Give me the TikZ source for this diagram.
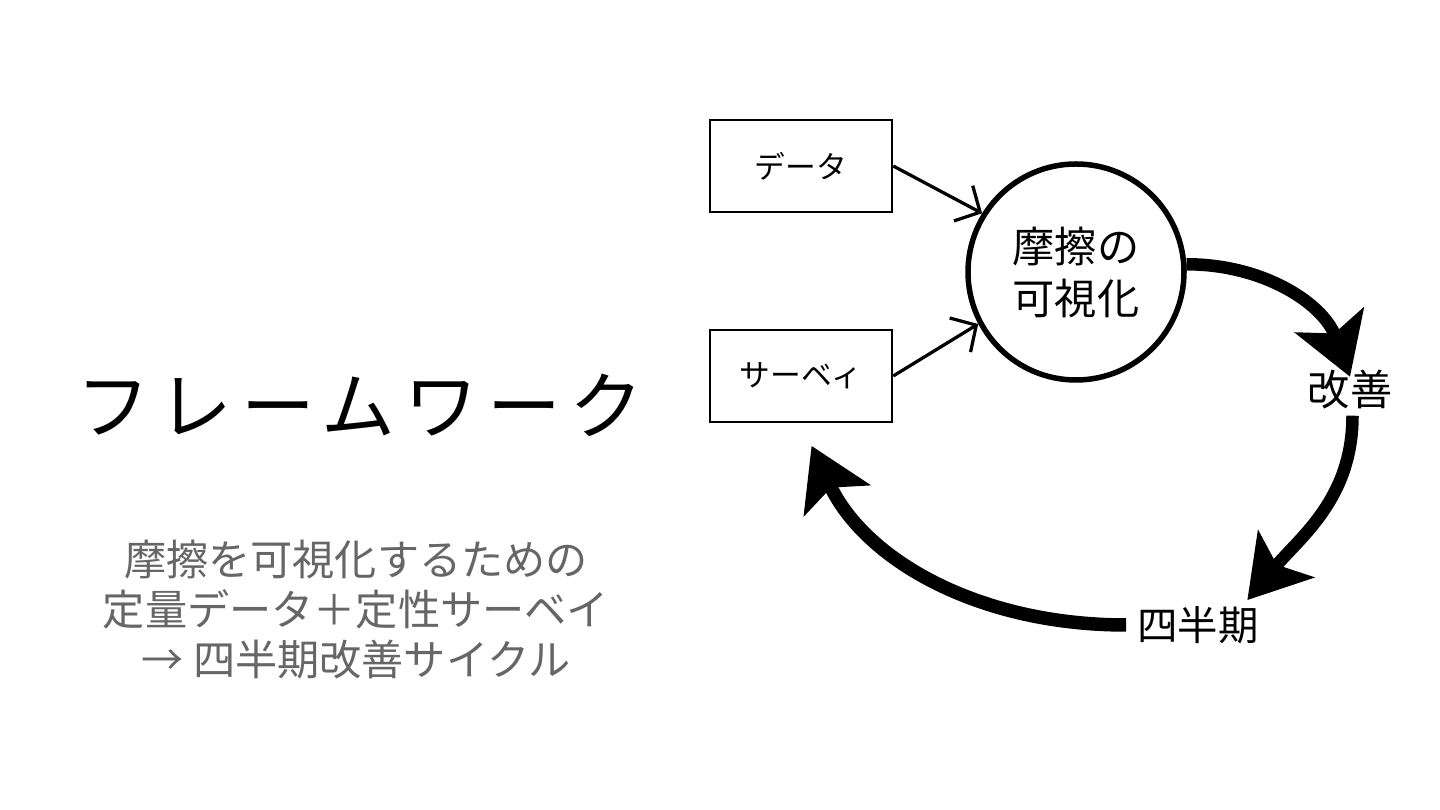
\documentclass[tikz,border=0pt]{standalone}
\usepackage{fontspec}
\usepackage{tikz}
\usetikzlibrary{arrows.meta}
\newfontfamily\jp{Noto Sans CJK JP}
\newfontfamily\jptitle[LetterSpace=12]{Noto Sans CJK JP}
\definecolor{subgray}{HTML}{666666}

\begin{document}
\begin{tikzpicture}[>=Stealth, every node/.style={font=\jp}]
  \fill[white] (0,0) rectangle (28.8,16.2);
  \useasboundingbox (0,0) rectangle (28.8,16.2);
  
  \node (title) at (7.2,8.1) {\jptitle\fontsize{42}{48}\selectfont フレームワーク};
  \node[text=subgray, align=center, font=\jp\fontsize{24}{28.45}\selectfont] (sub) at (7.12,4.0)
    {摩擦を可視化するための\\定量データ＋定性サーベイ\\→ 四半期改善サイクル};
  
  \node[draw, line width=0.05cm, minimum width=3.64cm, minimum height=1.84cm, font=\jp\fontsize{17.5}{20}\selectfont] (data) at (16.02,12.88) {データ};
  \node[draw, line width=0.05cm, minimum width=3.64cm, minimum height=1.84cm, font=\jp\fontsize{17.5}{20}\selectfont] (survey) at (16.02,8.68) {サーベィ};
  \node[draw, circle, line width=0.11cm, minimum size=4.32cm, align=center, font=\jp\fontsize{24}{29.6}\selectfont] (visual) at (21.52,10.76) {摩擦の\\可視化};
  \node[font=\jp\fontsize{24}{28}\selectfont] (kaizen) at (27.0,8.4) {改善};
  \node[font=\jp\fontsize{23}{28}\selectfont] (quarter) at (23.96,3.7) {四半期};
  
  \draw[-{Straight Barb[length=3.8mm, width=8mm]}, line width=0.065cm] (data.east) -- (visual.148);
  \draw[-{Straight Barb[length=3.8mm, width=8mm]}, line width=0.065cm] (survey.east) -- (visual.208);
  
  \draw[-{Stealth[length=1.2cm, width=1.45cm, inset=0.28cm]}, line width=0.25cm] (visual.4) to[out=0, in=110] ([yshift=-0.25cm]kaizen.north);
  \draw[-{Stealth[length=1.2cm, width=1.45cm, inset=0.28cm]}, line width=0.25cm] ([xshift=0.05cm]kaizen.south) to[out=-90, in=50] ([xshift=-0.35cm]quarter.north east);
  \draw[-{Stealth[length=1.2cm, width=1.45cm, inset=0.28cm]}, line width=0.27cm, shorten >=0.5cm] ([xshift=-0.1cm]quarter.west) to[out=180, in=-65] (survey.south);
\end{tikzpicture}
\end{document}
